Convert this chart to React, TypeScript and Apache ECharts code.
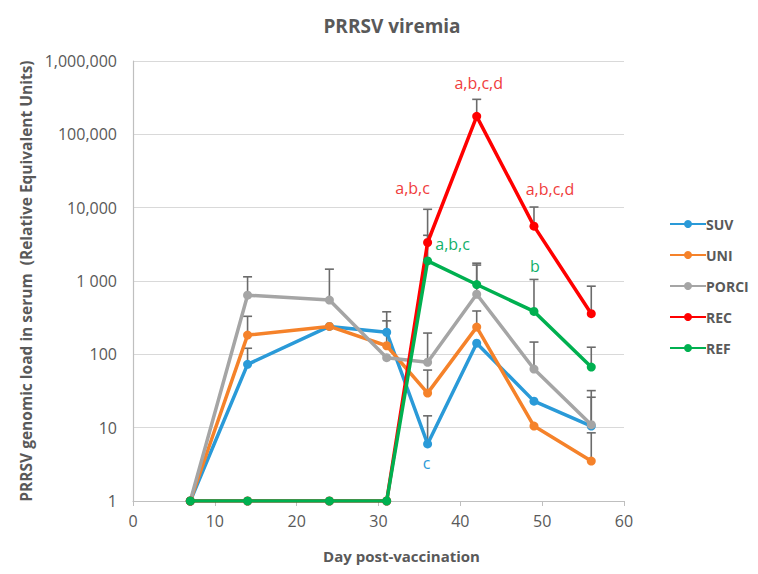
import React, { useEffect, useRef } from "react";
import * as echarts from "echarts";

const days = [7, 14, 24, 31, 36, 42, 49, 56];
const xTicks = [0, 10, 20, 30, 40, 50, 60];

const suv = [1, 73, 240, 200, 6, 142, 23, 10.5];
const uni = [1, 183, 240, 131, 29.6, 235, 10.5, 3.5];
const porci = [1, 640, 550, 90, 78, 660, 63, 11];
const rec = [1, 1, 1, 1, 3350, 176000, 5600, 358];
const ref = [1, 1, 1, 1, 1880, 895, 385, 67];

const suvUp = [null, 121, null, 380, 14.5, null, null, 26];
const uniUp = [null, 330, null, 286, 61, 390, null, 8.5];
const porciUp = [null, 1140, 1450, null, 195, 1650, 147, 32];
const recUp = [null, null, null, null, 9500, 300000, 10200, 850];
const refUp = [null, null, null, null, 4200, 1750, 1050, 125];

const yTickLabels: Record<number, string> = {
  1: "1",
  10: "10",
  100: "100",
  1000: "1 000",
  10000: "10,000",
  100000: "100,000",
  1000000: "1,000,000",
};

const names = ["SUV", "UNI", "PORCI", "REC", "REF"];
const colors = ["#2a9ad8", "#f5822a", "#a5a5a5", "#ff0000", "#00b050"];
const values = [suv, uni, porci, rec, ref];
const uppers = [suvUp, uniUp, porciUp, recUp, refUp];

// significance letters: [series index, day index, text]
const annotations: [number, number, string][] = [
  [3, 4, "a,b,c"],
  [3, 5, "a,b,c,d"],
  [3, 6, "a,b,c,d"],
  [4, 4, "a,b,c"],
  [4, 6, "b"],
  [0, 4, "c"],
];
const annoOffsets: Record<string, number[]> = {
  "3-4": [-15, -54],
  "3-5": [2, -33],
  "3-6": [16, -37],
  "4-4": [25, -17],
  "4-6": [1, -45],
  "0-4": [-1, 19],
};
const annoColors = ["#2a9ad8", "", "", "#f03c3c", "#12b06a"];

const FONT = "'Open Sans', sans-serif";

export default function App() {
  const ref1 = useRef<HTMLDivElement>(null);
  useEffect(() => {
    const chart = echarts.init(ref1.current!, null, { renderer: "svg" });

    const lineSeries = names.map((name, si) => ({
      name,
      type: "line",
      z: 3 + si,
      symbol: "circle",
      symbolSize: 9,
      color: colors[si],
      lineStyle: { width: 3.5, color: colors[si] },
      itemStyle: { color: colors[si] },
      data: days.map((d, di) => {
        const a = annotations.find((x) => x[0] === si && x[1] === di);
        const item: any = { value: [d, values[si][di]] };
        if (a) {
          item.label = {
            show: true,
            formatter: a[2],
            position: "inside",
            offset: annoOffsets[`${si}-${di}`],
            color: annoColors[si],
            fontSize: 16,
            fontFamily: FONT,
          };
        }
        return item;
      }),
    }));

    const errData: number[][] = [];
    uppers.forEach((arr, si) => {
      arr.forEach((u, di) => {
        if (u != null) errData.push([days[di], values[si][di], u as number]);
      });
    });

    const errSeries = {
      name: "err",
      type: "custom",
      z: 2,
      silent: true,
      encode: { x: 0, y: [1, 2] },
      data: errData,
      renderItem: (params: any, api: any) => {
        const x = api.value(0);
        const lo = api.value(1);
        const hi = api.value(2);
        const p1 = api.coord([x, lo]);
        const p2 = api.coord([x, hi]);
        const st = { stroke: "#6b6b6b", lineWidth: 1.6 };
        return {
          type: "group",
          children: [
            { type: "line", shape: { x1: p1[0], y1: p1[1], x2: p2[0], y2: p2[1] }, style: st },
            { type: "line", shape: { x1: p2[0] - 4.5, y1: p2[1], x2: p2[0] + 4.5, y2: p2[1] }, style: st },
          ],
        };
      },
    };

    chart.setOption({
      animation: false,
      backgroundColor: "#ffffff",
      textStyle: { fontFamily: FONT },
      title: {
        text: "PRRSV viremia",
        left: 387,
        top: 11,
        textAlign: "center",
        textStyle: { fontFamily: FONT, fontSize: 19, fontWeight: "bold", color: "#595959" },
      },
      legend: {
        data: names,
        orient: "vertical",
        left: 664,
        top: 212,
        itemWidth: 36,
        itemHeight: 10,
        itemGap: 17,
        textStyle: { fontFamily: FONT, fontSize: 14, fontWeight: "bold", color: "#595959", padding: [0, 0, 0, -5] },
      },
      grid: { left: 133, top: 61, width: 491, height: 440 },
      xAxis: {
        type: "value",
        min: xTicks[0],
        max: xTicks[xTicks.length - 1],
        interval: 10,
        name: "Day post-vaccination",
        nameLocation: "middle",
        nameGap: 47,
        nameTextStyle: { fontFamily: FONT, fontSize: 15, fontWeight: "bold", color: "#595959", padding: [0, 0, 0, 46] },
        axisLine: { show: true, lineStyle: { color: "#bfbfbf", width: 1.2 } },
        axisTick: { show: true, length: 5, lineStyle: { color: "#bfbfbf" } },
        axisLabel: { fontFamily: FONT, fontSize: 16, color: "#595959", margin: 12 },
        splitLine: { show: false },
      },
      yAxis: {
        type: "log",
        logBase: 10,
        min: 1,
        max: 1000000,
        name: "PRRSV genomic load in serum  (Relative Equivalent Units)",
        nameLocation: "middle",
        nameGap: 98,
        nameTextStyle: { fontFamily: FONT, fontSize: 15.5, fontWeight: "bold", color: "#595959" },
        axisLine: { show: true, lineStyle: { color: "#bfbfbf", width: 1.2 } },
        axisTick: { show: false },
        axisLabel: {
          fontFamily: FONT,
          fontSize: 16,
          color: "#595959",
          margin: 16,
          formatter: (v: number) => yTickLabels[Math.round(v)] ?? String(v),
        },
        splitLine: { show: true, lineStyle: { color: "#d9d9d9", width: 1.2 } },
      },
      series: [errSeries, ...lineSeries],
    });
    return () => chart.dispose();
  }, []);

  return (
    <div
      ref={ref1}
      style={{ position: "fixed", left: 0, top: 0, width: 758, height: 574, background: "#fff" }}
    />
  );
}
